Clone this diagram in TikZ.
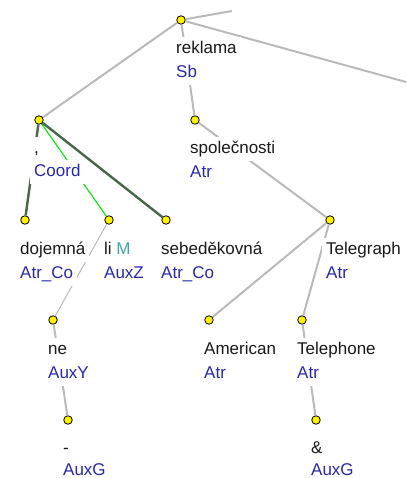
\documentclass[tikz,border=0pt]{standalone}
\usepackage{fontspec}
\setmainfont{Liberation Sans}
\usetikzlibrary{calc}
\definecolor{edgegray}{RGB}{186,186,186}
\definecolor{darkgreen}{RGB}{72,102,72}
\definecolor{brightgreen}{RGB}{20,230,20}
\definecolor{funcblue}{RGB}{40,40,170}
\definecolor{mteal}{RGB}{60,165,175}
\definecolor{wordblack}{RGB}{25,25,25}
\begin{document}
\begin{tikzpicture}[x=1pt,y=-1pt,
  dot/.style={circle,draw=black,fill=yellow,line width=0.8pt,minimum size=8.5pt,inner sep=0pt},
  word/.style={anchor=base west,fill=white,inner xsep=4pt,inner ysep=3.5pt,text height=13pt,text depth=4pt,font=\fontsize{17}{24}\selectfont,text=wordblack},
  func/.style={word,text=funcblue},
  lastline/.style={text depth=0pt,inner ysep=0.5pt},
  gedge/.style={draw=edgegray,line width=2pt},
  thinedge/.style={draw=edgegray,line width=1pt},
  dgedge/.style={draw=darkgreen,line width=2.4pt},
  bgedge/.style={draw=brightgreen,line width=1.2pt}]
\useasboundingbox (0,0) rectangle (406,478);
% tree nodes
\node[dot] (root) at (181,20) {};
\node[dot] (coord) at (39,120) {};
\node[dot] (spol) at (195,120) {};
\node[dot] (doj) at (25,220) {};
\node[dot] (li) at (109,220) {};
\node[dot] (sebe) at (166,220) {};
\node[dot] (tgraph) at (330,220) {};
\node[dot] (ne) at (53,320) {};
\node[dot] (amer) at (209,320) {};
\node[dot] (tphone) at (302,320) {};
\node[dot] (dash) at (68,420) {};
\node[dot] (amp) at (316,420) {};
\coordinate (ur) at (232,11);
\coordinate (rr) at (406,82);
% edges
\draw[gedge] (root) -- (ur);
\draw[gedge] (root) -- (rr);
\draw[gedge] (root) -- (coord);
\draw[gedge] (root) -- (spol);
\draw[dgedge] (coord) -- (doj);
\draw[bgedge] (coord) -- (li);
\draw[dgedge] (coord) -- (sebe);
\draw[thinedge] (li) -- (ne);
\draw[gedge] (ne) -- (dash);
\draw[gedge] (spol) -- (tgraph);
\draw[gedge] (tgraph) -- (amer);
\draw[gedge] (tgraph) -- (tphone);
\draw[gedge] (tphone) -- (amp);
% labels
\node[word] (rootw) at ($(root)+(-9,34)$) {reklama};
\node[func] (rootf) at ($(root)+(-9,58)$) {Sb};
\node[word] (coordw) at ($(coord)+(-9,34)$) {,};
\node[func] (coordf) at ($(coord)+(-9,57)$) {Coord};
\node[word] (spolw) at ($(spol)+(-9,34)$) {společnosti};
\node[func] (spolf) at ($(spol)+(-9,58)$) {Atr};
\node[word] (dojw) at ($(doj)+(-9,34)$) {dojemná};
\node[func] (dojf) at ($(doj)+(-9,58)$) {Atr\_Co};
\node[word] (liw) at ($(li)+(-9,34)$) {li {\color{mteal}M}};
\node[func] (lif) at ($(li)+(-9,58)$) {AuxZ};
\node[word] (sebew) at ($(sebe)+(-9,34)$) {sebeděkovná};
\node[func] (sebef) at ($(sebe)+(-9,58)$) {Atr\_Co};
\node[word] (tgraphw) at ($(tgraph)+(-8,34)$) {Telegraph};
\node[func] (tgraphf) at ($(tgraph)+(-8,58)$) {Atr};
\node[word] (new) at ($(ne)+(-9,34)$) {ne};
\node[func] (nef) at ($(ne)+(-9,58)$) {AuxY};
\node[word] (amerw) at ($(amer)+(-9,34)$) {American};
\node[func] (amerf) at ($(amer)+(-9,58)$) {Atr};
\node[word] (tphonew) at ($(tphone)+(-9,34)$) {Telephone};
\node[func] (tphonef) at ($(tphone)+(-9,58)$) {Atr};
\node[word] (dashw) at ($(dash)+(-9,33)$) {-};
\node[func,lastline] (dashf) at ($(dash)+(-9,55.5)$) {AuxG};
\node[word] (ampw) at ($(amp)+(-9,33)$) {\&};
\node[func,lastline] (ampf) at ($(amp)+(-9,55.5)$) {AuxG};
\end{tikzpicture}
\end{document}
